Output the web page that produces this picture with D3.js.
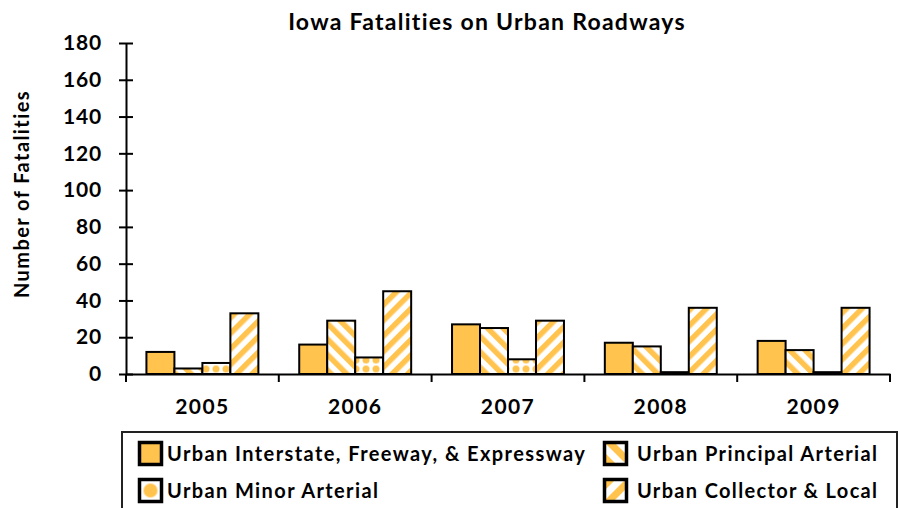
<!DOCTYPE html>
<html><head><meta charset="utf-8">
<script src="https://cdn.jsdelivr.net/npm/d3@7"></script>
<style>
html,body{margin:0;padding:0;background:#fff;}
svg{display:block;font-family:Lato,"Noto Sans",sans-serif;}
</style></head>
<body>
<svg id="c" width="898" height="508"></svg>
<script>
const years = ["2005","2006","2007","2008","2009"];
const seriesNames = ["Urban Interstate, Freeway, & Expressway","Urban Principal Arterial","Urban Minor Arterial","Urban Collector & Local"];
const interstate = [12,16,27,17,18];
const principal = [3,29,25,15,13];
const minor = [6,9,8,1,1];
const collector = [33,45,29,36,36];
const yTicks = [0,20,40,60,80,100,120,140,160,180];

const ORANGE = "#FFC34E";
const svg = d3.select("#c");
const defs = svg.append("defs");

// fit text width with letter-spacing
function fit(sel, target){
  sel.each(function(){
    const len = this.getComputedTextLength();
    const n = this.textContent.length;
    if(n>1) d3.select(this).attr("letter-spacing", ((target-len)/(n-1)).toFixed(2)+"px");
  });
}

// patterns
function stripe(id, angle){
  const p = defs.append("pattern").attr("id",id).attr("patternUnits","userSpaceOnUse")
    .attr("width",11).attr("height",11).attr("patternTransform",`rotate(${angle})`);
  p.append("rect").attr("width",11).attr("height",11).attr("fill","#fff");
  p.append("rect").attr("width",5.5).attr("height",11).attr("fill",ORANGE);
}
stripe("pPrincipal",-45);
stripe("pCollector",45);
const pd = defs.append("pattern").attr("id","pMinor").attr("patternUnits","userSpaceOnUse")
  .attr("width",10).attr("height",9).attr("x",1).attr("y",4.5);
pd.append("rect").attr("width",10).attr("height",9).attr("fill","#fff");
pd.append("circle").attr("cx",5).attr("cy",4.5).attr("r",3.5).attr("fill",ORANGE);

const fills = [ORANGE,"url(#pPrincipal)","url(#pMinor)","url(#pCollector)"];
const data = [interstate, principal, minor, collector];

const x0 = d3.scaleBand().domain(years).range([126,890]).paddingInner(0).paddingOuter(0);
const x1 = d3.scaleBand().domain(d3.range(4)).range([0,x0.bandwidth()]).paddingOuter(0.73).paddingInner(0);
const y = d3.scaleLinear().domain([0,180]).range([374,43]);

// bars
years.forEach((yr,i)=>{
  data.forEach((s,k)=>{
    svg.append("rect")
      .attr("x", x0(yr)+x1(k))
      .attr("y", y(s[i]))
      .attr("width", x1.bandwidth())
      .attr("height", y(0)-y(s[i]))
      .attr("fill", fills[k])
      .attr("stroke","#000").attr("stroke-width",2);
  });
});

// y axis
const yAxis = svg.append("g").attr("transform","translate(126,0)")
  .call(d3.axisLeft(y).tickValues(yTicks).tickSize(0).tickPadding(24));
yAxis.select(".domain").attr("stroke","#000").attr("stroke-width",2);
yAxis.selectAll(".tick line").attr("x1",-7).attr("x2",7).attr("stroke","#000").attr("stroke-width",2);
yAxis.selectAll(".tick text").attr("font-size",21).attr("font-weight","bold").attr("fill","#000")
  .attr("font-family","Lato,sans-serif").attr("letter-spacing","0.8px");

// x axis
const xAxis = svg.append("g").attr("transform","translate(0,374)")
  .call(d3.axisBottom(x0).tickSize(0).tickPadding(25));
xAxis.select(".domain").attr("stroke","#000").attr("stroke-width",2);
const xt = xAxis.selectAll(".tick text").attr("font-size",21).attr("font-weight","bold").attr("fill","#000")
  .attr("font-family","Lato,sans-serif");
fit(xt, 53);
const bounds = years.map(d=>x0(d)).concat([x0.range()[1]]);
xAxis.selectAll("line.b").data(bounds).enter().append("line").attr("class","b")
  .attr("x1",d=>d).attr("x2",d=>d).attr("y1",0).attr("y2",8)
  .attr("stroke","#000").attr("stroke-width",2);

// title
const title = svg.append("text").attr("x",487).attr("y",30).attr("text-anchor","middle")
  .attr("font-size",23).attr("font-weight","bold").text("Iowa Fatalities on Urban Roadways");
fit(title, 397);

// y label
const yl = svg.append("text").attr("transform","translate(29,194) rotate(-90)").attr("text-anchor","middle")
  .attr("font-size",20).attr("font-weight","bold").text("Number of Fatalities");
fit(yl, 207);

// legend
svg.append("rect").attr("x",122).attr("y",432).attr("width",775).attr("height",90)
  .attr("fill","none").attr("stroke","#222").attr("stroke-width",2);
const legPos = [[138,441],[603,441],[138,478],[603,478]];
const legTextX = [167,637,167,637];
const legTarget = [418,240,211,240];
// legend-specific patterns
function lstripe(id, angle, ox, oy){
  const p = defs.append("pattern").attr("id",id).attr("patternUnits","userSpaceOnUse")
    .attr("x",ox).attr("y",oy).attr("width",14).attr("height",14).attr("patternTransform",`rotate(${angle} ${ox} ${oy})`);
  p.append("rect").attr("width",14).attr("height",14).attr("fill","#fff");
  p.append("rect").attr("x",0).attr("width",7).attr("height",14).attr("fill",ORANGE);
}
lstripe("lgPrincipal",-45,603+12,441+12);
lstripe("lgCollector",45,603+12,478+12);
const lm = defs.append("pattern").attr("id","lgMinor").attr("patternUnits","objectBoundingBox").attr("width",1).attr("height",1);
lm.append("rect").attr("width",22).attr("height",22).attr("fill","#fff");
lm.append("circle").attr("cx",11).attr("cy",11).attr("r",7).attr("fill",ORANGE);
const legFill = [ORANGE,"url(#lgPrincipal)","url(#lgMinor)","url(#lgCollector)"];

[0,1,2,3].forEach(i=>{
  const [lx,ly] = legPos[i];
  svg.append("rect").attr("x",lx+1.5).attr("y",ly+1.5).attr("width",22).attr("height",22)
    .attr("fill",legFill[i]).attr("stroke","#000").attr("stroke-width",3.5);
  const t = svg.append("text").attr("x",legTextX[i]).attr("y",ly+20).attr("font-size",20).attr("font-weight","bold")
    .text(seriesNames[i]);
  fit(t, legTarget[i]);
});
</script>
</body></html>
